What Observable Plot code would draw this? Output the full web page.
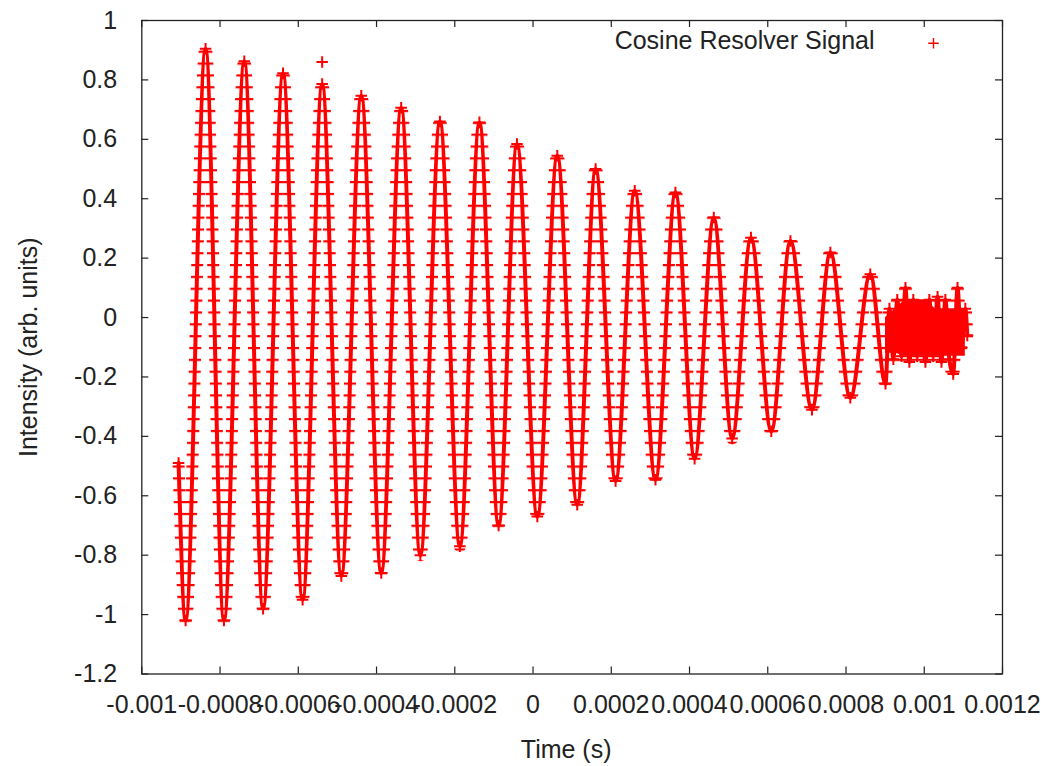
<!DOCTYPE html>
<html>
<head>
<meta charset="utf-8">
<script src="https://cdn.jsdelivr.net/npm/d3@7"></script>
<script src="https://cdn.jsdelivr.net/npm/@observablehq/plot@0.6"></script>
<style>
html, body { margin: 0; padding: 0; background: #ffffff; }
#chart svg { display: block; }
</style>
</head>
<body>
<div id="chart"></div>
<script>
// ---- data ----
const seriesName = "Cosine Resolver Signal";
const xLabel = "Time (s)";
const yLabel = "Intensity (arb. units)";

const startTimes = [-0.000906];
const startValues = [-0.49];

const peakTimes = [-0.000837, -0.000738, -0.000639, -0.000539, -0.000439, -0.000337, -0.000238, -0.000137, -0.000041,
  0.000062, 0.000160, 0.000260, 0.000364, 0.000462, 0.000557, 0.000658, 0.000760, 0.000862];
const peakValues = [0.905, 0.863, 0.822, 0.786, 0.747, 0.706, 0.660, 0.657, 0.584,
  0.545, 0.500, 0.427, 0.421, 0.337, 0.269, 0.258, 0.219, 0.146];

const troughTimes = [-0.000888, -0.000790, -0.000690, -0.000589, -0.000490, -0.000388, -0.000288, -0.000187, -0.000088,
  0.000011, 0.000113, 0.000211, 0.000313, 0.000413, 0.000509, 0.000609, 0.000713, 0.000811, 0.000901];
const troughValues = [-1.02, -1.02, -0.98, -0.95, -0.87, -0.86, -0.80, -0.77, -0.70,
  -0.67, -0.63, -0.55, -0.546, -0.475, -0.407, -0.383, -0.31, -0.27, -0.223];

const tailTimes = [0.000911, 0.000921, 0.000931, 0.000942, 0.000952, 0.000962, 0.000972, 0.000982, 0.000993, 0.001003,
  0.001013, 0.001023, 0.001034, 0.001044, 0.001054, 0.001064, 0.001074, 0.001085, 0.001095, 0.001105, 0.001110];
const tailValues = [0.03, -0.14, 0.06, -0.13, 0.10, -0.15, 0.06, -0.13, 0.03, -0.15,
  0.06, -0.13, 0.07, -0.15, 0.06, -0.14, -0.19, 0.10, -0.10, 0.03, -0.06];

// solid, densely sampled band at the end of the record
const bandTimes = [0.000901, 0.000926, 0.000952, 0.001003, 0.001028, 0.001105];
const bandUpper = [0.0, 0.03, 0.06, 0.06, 0.03, 0.03];
const bandLower = [-0.12, -0.12, -0.13, -0.13, -0.13, -0.13];

const outlierTimes = [-0.000539];
const outlierValues = [0.86];

// quantisation levels of the samples (rows of "+" markers)
const levelStep = 0.0399;
const levelOffset = 0.017;

const xTicks = [-0.001, -0.0008, -0.0006, -0.0004, -0.0002, 0, 0.0002, 0.0004, 0.0006, 0.0008, 0.001, 0.0012];
const yTicks = [-1.2, -1, -0.8, -0.6, -0.4, -0.2, 0, 0.2, 0.4, 0.6, 0.8, 1];

// ---- build tables ----
const zip = (ts, vs) => ts.map((t, i) => ({t, v: vs[i]}));
const series = [
  ...zip(startTimes, startValues),
  ...zip(peakTimes, peakValues),
  ...zip(troughTimes, troughValues),
  ...zip(tailTimes, tailValues)
].sort((a, b) => a.t - b.t);
const outliers = zip(outlierTimes, outlierValues);
const band = bandTimes.map((t, i) => ({t, lo: bandLower[i], hi: bandUpper[i]}));

const W = 1046, H = 766;
const mL = 141.3, mR = 44, mT = 20, mB = 92.5;
const frameW = W - mL - mR, frameH = H - mT - mB;
const red = "#ff0000";
const ink = "#222222";
const tickLen = 7;

function rungPattern(index, scales) {
  const y = scales.y;
  const step = Math.abs(y(0) - y(levelStep));
  const off = y(levelOffset);
  const ns = "http://www.w3.org/2000/svg";
  const defs = document.createElementNS(ns, "defs");
  const p = document.createElementNS(ns, "pattern");
  p.setAttribute("id", "rungs");
  p.setAttribute("patternUnits", "userSpaceOnUse");
  p.setAttribute("x", 0);
  p.setAttribute("y", off - 1.1);
  p.setAttribute("width", 40);
  p.setAttribute("height", step);
  const r = document.createElementNS(ns, "rect");
  r.setAttribute("x", 0);
  r.setAttribute("y", 0);
  r.setAttribute("width", 40);
  r.setAttribute("height", 2.2);
  r.setAttribute("fill", red);
  p.appendChild(r);
  defs.appendChild(p);
  return defs;
}

const chart = Plot.plot({
  width: W,
  height: H,
  marginLeft: mL,
  marginRight: mR,
  marginTop: mT,
  marginBottom: mB,
  style: {fontFamily: "'Liberation Sans', Arial, sans-serif", fontSize: "25px", color: ink, background: "#ffffff"},
  x: {domain: [-0.001, 0.0012], axis: null},
  y: {domain: [-1.2, 1], axis: null},
  marks: [
    rungPattern,
    // data
    Plot.areaY(band, {x: "t", y1: "lo", y2: "hi", fill: red, curve: "linear"}),
    Plot.line(series, {x: "t", y: "v", stroke: "url(#rungs)", strokeWidth: 12, curve: "monotone-x"}),
    Plot.line(series, {x: "t", y: "v", stroke: red, strokeWidth: 4, strokeLinejoin: "round", curve: "monotone-x"}),
    Plot.dot(series, {x: "t", y: "v", symbol: "plus", r: 3.8, stroke: red, strokeWidth: 2}),
    Plot.dot(outliers, {x: "t", y: "v", symbol: "plus", r: 3.8, stroke: red, strokeWidth: 2}),
    // inward ticks on all four sides
    Plot.tickX(xTicks, {x: d => d, insetTop: frameH - tickLen, stroke: ink, strokeWidth: 1.2}),
    Plot.tickX(xTicks, {x: d => d, insetBottom: frameH - tickLen, stroke: ink, strokeWidth: 1.2}),
    Plot.tickY(yTicks, {y: d => d, insetRight: frameW - tickLen, stroke: ink, strokeWidth: 1.2}),
    Plot.tickY(yTicks, {y: d => d, insetLeft: frameW - tickLen, stroke: ink, strokeWidth: 1.2}),
    // tick labels
    Plot.axisX(xTicks, {anchor: "bottom", tickSize: 0, tickPadding: 21, tickFormat: d => String(d), label: null}),
    Plot.axisY(yTicks, {anchor: "left", tickSize: 0, tickPadding: 24.6, tickFormat: d => String(d), label: null}),
    Plot.frame({stroke: ink, strokeWidth: 1.3}),
    // axis titles
    Plot.text([xLabel], {frameAnchor: "bottom", dy: 75.5, dx: -6, lineAnchor: "middle", textAnchor: "middle", fill: ink}),
    Plot.text([yLabel], {frameAnchor: "left", dx: -113, rotate: -90, lineAnchor: "middle", textAnchor: "middle", fill: ink}),
    // key
    Plot.text([seriesName], {frameAnchor: "top-right", dx: -128, dy: 20, textAnchor: "end", lineAnchor: "middle", fill: ink}),
    Plot.dot([seriesName], {frameAnchor: "top-right", dx: -69, dy: 22.7, symbol: "plus", r: 3.5, stroke: red, strokeWidth: 1.4})
  ]
});

document.getElementById("chart").appendChild(chart);
</script>
</body>
</html>
